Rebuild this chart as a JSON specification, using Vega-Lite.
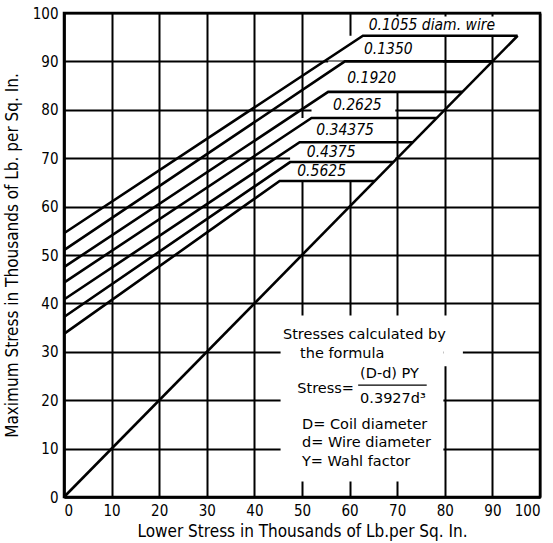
{
  "$schema": "https://vega.github.io/schema/vega-lite/v6.json",
  "width": 476,
  "height": 484,
  "autosize": {"type": "none"},
  "padding": {"left": 64, "top": 13, "right": 13, "bottom": 46},
  "background": "white",
  "config": {
    "view": {"stroke": "black", "strokeWidth": 2.5},
    "font": "DejaVu Sans Condensed"
  },
  "datasets": {
    "lines": [
      {"wire": "diag", "i": 0, "x": 0, "y": 0},
      {"wire": "diag", "i": 1, "x": 95.3, "y": 95.3},
      {"wire": "0.1055", "i": 0, "x": 0, "y": 54.5},
      {"wire": "0.1055", "i": 1, "x": 62.8, "y": 95.3},
      {"wire": "0.1055", "i": 2, "x": 95.3, "y": 95.3},
      {"wire": "0.1350", "i": 0, "x": 0, "y": 51},
      {"wire": "0.1350", "i": 1, "x": 59, "y": 90},
      {"wire": "0.1350", "i": 2, "x": 90, "y": 90},
      {"wire": "0.1920", "i": 0, "x": 0, "y": 47.5},
      {"wire": "0.1920", "i": 1, "x": 55.5, "y": 83.7},
      {"wire": "0.1920", "i": 2, "x": 83.7, "y": 83.7},
      {"wire": "0.2625", "i": 0, "x": 0, "y": 44.3},
      {"wire": "0.2625", "i": 1, "x": 52, "y": 78.3},
      {"wire": "0.2625", "i": 2, "x": 78.3, "y": 78.3},
      {"wire": "0.34375", "i": 0, "x": 0, "y": 40.8},
      {"wire": "0.34375", "i": 1, "x": 49.5, "y": 73.3},
      {"wire": "0.34375", "i": 2, "x": 73.3, "y": 73.3},
      {"wire": "0.4375", "i": 0, "x": 0, "y": 37.2},
      {"wire": "0.4375", "i": 1, "x": 47.5, "y": 69.2},
      {"wire": "0.4375", "i": 2, "x": 69.2, "y": 69.2},
      {"wire": "0.5625", "i": 0, "x": 0, "y": 33.7},
      {"wire": "0.5625", "i": 1, "x": 45.3, "y": 65.3},
      {"wire": "0.5625", "i": 2, "x": 65.3, "y": 65.3}
    ],
    "boxes": [
      {"x": 63, "x2": 95.3, "y": 95.3, "y2": 99.3},
      {"x": 59, "x2": 79.6, "y": 90, "y2": 95.3},
      {"x": 55.5, "x2": 79.6, "y": 83.7, "y2": 90},
      {"x": 52, "x2": 69.6, "y": 78.3, "y2": 83.7},
      {"x": 49.5, "x2": 69.6, "y": 73.3, "y2": 78.3},
      {"x": 47.5, "x2": 69.6, "y": 69.2, "y2": 73.3},
      {"x": 45.3, "x2": 65.3, "y": 65.3, "y2": 69.2},
      {"x": 45.5, "x2": 79.7, "y": 3.2, "y2": 37.5},
      {"x": 79.7, "x2": 83.8, "y": 27, "y2": 37.5}
    ],
    "labels": [
      {"text": "0.1055 diam. wire", "x": 64, "y": 97.6},
      {"text": "0.1350", "x": 63, "y": 92.5},
      {"text": "0.1920", "x": 59.5, "y": 86.6},
      {"text": "0.2625", "x": 56.5, "y": 81},
      {"text": "0.34375", "x": 53, "y": 75.9},
      {"text": "0.4375", "x": 51, "y": 71.3},
      {"text": "0.5625", "x": 49, "y": 67.3}
    ],
    "notes": [
      {"text": "Stresses calculated by", "x": 46, "y": 33.4},
      {"text": "the formula", "x": 49.6, "y": 29.6},
      {"text": "Stress=", "x": 49, "y": 22.3},
      {"text": "(D-d) PY", "x": 62.2, "y": 25.5},
      {"text": "0.3927d³", "x": 62.2, "y": 20.3},
      {"text": "D= Coil diameter", "x": 50, "y": 14.9},
      {"text": "d= Wire diameter", "x": 50, "y": 11.1},
      {"text": "Y= Wahl factor", "x": 50, "y": 7.3}
    ],
    "bar": [{"x": 61.8, "x2": 76.2, "y": 23.1}]
  },
  "encoding": {
    "x": {
      "field": "x", "type": "quantitative",
      "scale": {"domain": [0, 100], "nice": false},
      "axis": {
        "title": "Lower Stress in Thousands of Lb.per Sq. In.",
        "values": [0, 10, 20, 30, 40, 50, 60, 70, 80, 90, 100],
        "grid": true, "gridColor": "black", "gridWidth": 2, "gridOpacity": 1,
        "domainColor": "black", "domainWidth": 2.5,
        "ticks": false, "labelPadding": 6,
        "labelFontSize": 15, "labelColor": "black",
        "titleFontSize": 17, "titleFontWeight": "normal", "titleColor": "black",
        "titlePadding": 5
      }
    },
    "y": {
      "field": "y", "type": "quantitative",
      "scale": {"domain": [0, 100], "nice": false},
      "axis": {
        "title": "Maximum Stress in Thousands of Lb. per Sq. In.",
        "values": [0, 10, 20, 30, 40, 50, 60, 70, 80, 90, 100],
        "grid": true, "gridColor": "black", "gridWidth": 2, "gridOpacity": 1,
        "domainColor": "black", "domainWidth": 2.5,
        "ticks": false, "labelPadding": 6,
        "labelFontSize": 15, "labelColor": "black",
        "titleFontSize": 17, "titleFontWeight": "normal", "titleColor": "black",
        "titlePadding": 11
      }
    }
  },
  "layer": [
    {
      "data": {"name": "boxes"},
      "mark": {"type": "rect", "fill": "white", "stroke": null},
      "encoding": {
        "x2": {"field": "x2"},
        "y2": {"field": "y2"}
      }
    },
    {
      "data": {"name": "lines"},
      "mark": {"type": "line", "color": "black", "strokeWidth": 2.6},
      "encoding": {
        "detail": {"field": "wire"},
        "order": {"field": "i"}
      }
    },
    {
      "data": {"name": "bar"},
      "mark": {"type": "rule", "color": "black", "strokeWidth": 1.3},
      "encoding": {"x2": {"field": "x2"}}
    },
    {
      "data": {"name": "labels"},
      "mark": {"type": "text", "align": "left", "baseline": "middle", "fontStyle": "italic", "fontSize": 15.5, "color": "black"},
      "encoding": {"text": {"field": "text"}}
    },
    {
      "data": {"name": "notes"},
      "mark": {"type": "text", "align": "left", "baseline": "middle", "fontSize": 14.5, "font": "DejaVu Sans", "color": "black"},
      "encoding": {"text": {"field": "text"}}
    }
  ]
}
